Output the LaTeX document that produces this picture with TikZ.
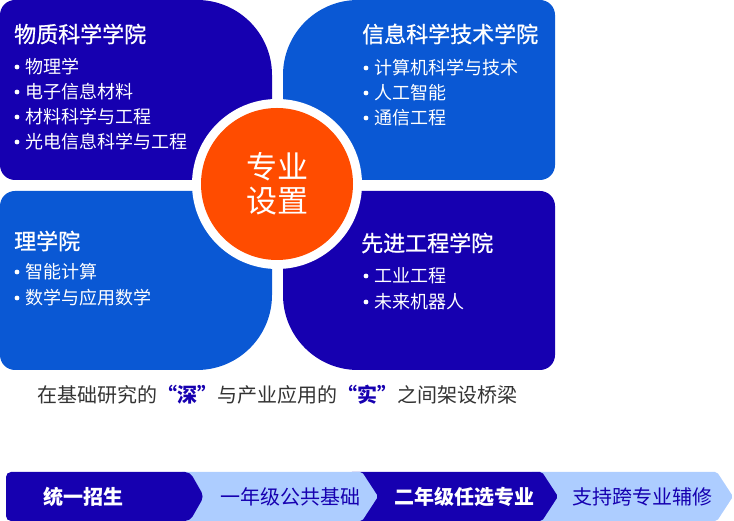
\documentclass[tikz,border=0pt]{standalone}
\usepackage{fontspec}
\setmainfont{Noto Sans CJK SC}
\newfontfamily\mediumcjk{Noto Sans CJK SC}[FakeBold=0.9]
\usetikzlibrary{calc}
\definecolor{deepBlue}{RGB}{22,0,176}
\definecolor{brightBlue}{RGB}{10,88,212}
\definecolor{hotOrange}{RGB}{255,76,0}
\definecolor{paleBlue}{RGB}{173,205,255}
\definecolor{captionGray}{RGB}{51,51,51}
\newcommand{\Quoted}[1]{{\color{deepBlue}\bfseries\makebox[1em][r]{“}#1\makebox[1em][l]{”}}}
\tikzset{
  schoolTitle/.style={anchor=west,inner sep=0pt,text=white,font=\mediumcjk\fontsize{22}{24}\selectfont},
  majorItem/.style={anchor=west,inner sep=0pt,text=white,font=\fontsize{18}{20}\selectfont},
  stageText/.style={inner sep=0pt,font=\fontsize{20}{22}\selectfont},
}

\begin{document}
\begin{tikzpicture}[x=1pt,y=1pt]
\useasboundingbox (0,0) rectangle (734,521);
% four college blocks
\fill[deepBlue] (0,356) -- (0,506) arc[start angle=180,end angle=90,radius=15] -- (197,521)
  arc[start angle=90,end angle=0,radius=75] -- (272,356) arc[start angle=0,end angle=-90,radius=15]
  -- (15,341) arc[start angle=270,end angle=180,radius=15] -- cycle;
\fill[brightBlue] (283,356) -- (283,446) arc[start angle=180,end angle=90,radius=75] -- (540,521)
  arc[start angle=90,end angle=0,radius=15] -- (555,356) arc[start angle=0,end angle=-90,radius=15]
  -- (298,341) arc[start angle=270,end angle=180,radius=15] -- cycle;
\fill[brightBlue] (0,166) -- (0,315) arc[start angle=180,end angle=90,radius=15] -- (257,330)
  arc[start angle=90,end angle=0,radius=15] -- (272,226) arc[start angle=0,end angle=-90,radius=75]
  -- (15,151) arc[start angle=270,end angle=180,radius=15] -- cycle;
\fill[deepBlue] (283,226) -- (283,315) arc[start angle=180,end angle=90,radius=15] -- (540,330)
  arc[start angle=90,end angle=0,radius=15] -- (555,166) arc[start angle=0,end angle=-90,radius=15]
  -- (358,151) arc[start angle=270,end angle=180,radius=75] -- cycle;

% centre badge
\fill[white] (277,337) circle (85);
\node[circle,fill=hotOrange,minimum size=152pt,inner sep=0pt,text=white,align=center,
  font=\fontsize{31}{34}\selectfont] (hub) at (277,337) {专业\\设置};

\node[schoolTitle] (wuzhi) at (14,487) {物质科学学院};
\foreach \txt [count=\i] in {物理学,电子信息材料,材料科学与工程,光电信息科学与工程} {
  \node[majorItem] (wuzhi\i) at (25,479-25*\i) {\txt};
  \fill[white] ($(wuzhi\i.west)+(-8,0)$) circle (2.4);
}
\node[schoolTitle] (xinxi) at (362,487) {信息科学技术学院};
\foreach \txt [count=\i] in {计算机科学与技术,人工智能,通信工程} {
  \node[majorItem] (xinxi\i) at (374,478-25*\i) {\txt};
  \fill[white] ($(xinxi\i.west)+(-8,0)$) circle (2.4);
}
\node[schoolTitle] (lixue) at (14,280) {理学院};
\foreach \txt [count=\i] in {智能计算,数学与应用数学} {
  \node[majorItem] (lixue\i) at (25,275-26*\i) {\txt};
  \fill[white] ($(lixue\i.west)+(-8,0)$) circle (2.4);
}
\node[schoolTitle] (xianjin) at (361,278) {先进工程学院};
\foreach \txt [count=\i] in {工业工程,未来机器人} {
  \node[majorItem] (xianjin\i) at (374,271-26*\i) {\txt};
  \fill[white] ($(xianjin\i.west)+(-8,0)$) circle (2.4);
}

\node[anchor=west,inner sep=0pt,text=captionGray,font=\fontsize{20}{22}\selectfont] (motto) at (37,126)
  {在基础研究的\Quoted{深}与产业应用的\Quoted{实}之间架设桥梁};

% training path, drawn back to front
\fill[paleBlue,rounded corners=2pt] (530,0) -- (717,0) -- (733,24.5) -- (717,49) -- (530,49) -- cycle;
\fill[deepBlue,rounded corners=2pt] (350,0) -- (542,0) -- (558,24.5) -- (542,49) -- (350,49) -- cycle;
\fill[paleBlue,rounded corners=2pt] (180,0) -- (362,0) -- (378,24.5) -- (362,49) -- (180,49) -- cycle;
\fill[deepBlue,rounded corners=5pt] (6,0) -- (190,0) -- (204,24.5) -- (190,49) -- (6,49) -- cycle;
\node[stageText,text=white,font=\fontsize{20}{22}\selectfont\bfseries] (stage1) at (83,24) {统一招生};
\node[stageText,text=deepBlue] (stage2) at (290,24) {一年级公共基础};
\node[stageText,text=white,font=\fontsize{20}{22}\selectfont\bfseries] (stage3) at (464,24) {二年级任选专业};
\node[stageText,text=deepBlue] (stage4) at (642,24) {支持跨专业辅修};
\end{tikzpicture}
\end{document}
